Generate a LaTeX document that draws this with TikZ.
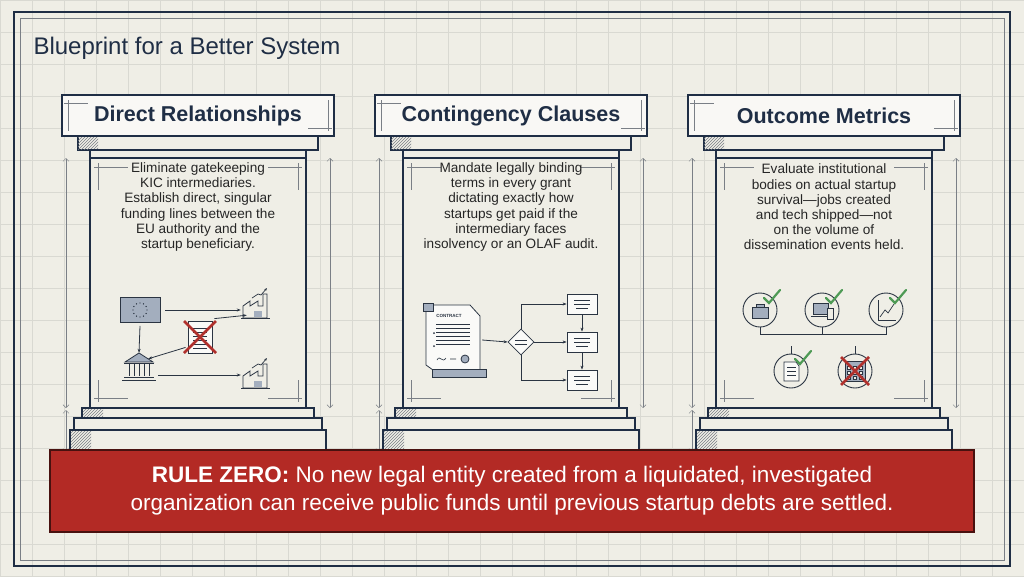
\documentclass[tikz,border=0pt]{standalone}
\usepackage{fontspec}
\setmainfont{Liberation Sans}
\usetikzlibrary{patterns,arrows.meta,shapes.geometric,calc}
\definecolor{bg}{HTML}{EFEEE6}
\definecolor{grid}{HTML}{D9D9D2}
\definecolor{navy}{HTML}{1F2E45}
\definecolor{ink}{HTML}{2A3442}
\definecolor{iconfill}{HTML}{A3AEBE}
\definecolor{banner}{HTML}{B32A25}
\definecolor{xred}{HTML}{B0302C}
\definecolor{chk}{HTML}{4E9A55}
\definecolor{dim}{HTML}{7A7F86}
\tikzset{
  ln/.style={draw=navy,line width=1.6pt},
  dimline/.style={draw=dim,line width=0.5pt,{Straight Barb[length=3pt]}-{Straight Barb[length=3pt]}},
  arr/.style={draw=ink,line width=0.8pt,-{Stealth[length=4pt]}},
  body/.style={align=center,text=black!85,font=\fontsize{13.6}{15.2}\selectfont},
  head/.style={font=\bfseries\fontsize{21.5}{25}\selectfont,text=navy},
  hatch/.style={pattern=north east lines,pattern color=dim}
}
\newcommand{\pillar}[3]{% #1 center x, #2 title, #3 body
\begin{scope}[shift={(#1,0)}]
 \fill[white!60!bg] (-136,95) rectangle (136,136);
 \draw[ln] (-136,95) rectangle (136,136);
 \draw[dim,line width=0.4pt] (-130,100)--(-130,131) (130,100)--(130,131) (-134,103)--(-110,103) (110,128)--(134,128);
 \node[head] at (0,115.5) {#2};
 \draw[ln,fill=bg] (-120,136) rectangle (120,150);
 \fill[hatch] (-120,137) rectangle (-100,149);
 \draw[ln,fill=bg] (-108,150) rectangle (108,158);
 \draw[ln,fill=bg] (-108,158) rectangle (108,408);
 \draw[dim,line width=0.4pt] (-100,163)--(-100,190) (100,163)--(100,190) (-104,167)--(-70,167) (70,167)--(104,167)
   (-100,380)--(-100,402) (100,380)--(100,402) (-104,398)--(-70,398) (70,398)--(104,398);
 \draw[ln,fill=bg] (-116,408) rectangle (116,418);
 \fill[hatch] (-115,409) rectangle (-95,417);
 \draw[ln,fill=bg] (-124,418) rectangle (124,430);
 \draw[ln,fill=bg] (-128,430) rectangle (128,452);
 \fill[hatch] (-127,431) rectangle (-107,451);
 \draw[dimline] (-132,158)--(-132,408);
 \draw[dimline] (132,158)--(132,408);
 \draw[dimline] (-132,410)--(-132,452);
 \node[body] at (0,207) {#3};
\end{scope}}
\begin{document}
\begin{tikzpicture}[x=1pt,y=-1pt]
\useasboundingbox (0,0) rectangle (1024,576);
\fill[bg] (0,0) rectangle (1024,576);
\foreach \i in {0,32,...,1024} \draw[grid,line width=0.4pt] (\i,0)--(\i,576);
\foreach \j in {0,32,...,576} \draw[grid,line width=0.4pt] (0,\j)--(1024,\j);
\draw[navy,line width=1.2pt] (14,12) rectangle (1010,566);
\draw[dim,line width=0.4pt] (20,18) rectangle (1004,560);
\node[anchor=west,text=navy,font=\fontsize{24}{28}\selectfont] (title) at (30,48) {Blueprint for a Better System};

\pillar{198}{Direct Relationships}{Eliminate gatekeeping\\KIC intermediaries.\\Establish direct, singular\\funding lines between the\\EU authority and the\\startup beneficiary.}
\pillar{511}{Contingency Clauses}{Mandate legally binding\\terms in every grant\\dictating exactly how\\startups get paid if the\\intermediary faces\\insolvency or an OLAF audit.}
\pillar{824}{Outcome Metrics}{Evaluate institutional\\bodies on actual startup\\survival—jobs created\\and tech shipped—not\\on the volume of\\dissemination events held.}

% ---- column 1 icons
\node[draw=ink,fill=iconfill,line width=0.8pt,minimum width=40pt,minimum height=25pt,inner sep=0] (flag) at (140,310) {};
\foreach \a in {0,30,...,330} \fill[ink] ($(flag)+(\a:7)$) circle (0.7);
\coordinate (fac1) at (258,306);
\coordinate (fac2) at (258,376);
\foreach \f in {fac1,fac2}{
 \draw[ink,line width=0.8pt,fill=bg] ($(\f)+(-15,12)$)--($(\f)+(-15,0)$)--($(\f)+(-8,-5)$)--($(\f)+(-8,0)$)--($(\f)+(0,-5)$)--($(\f)+(0,0)$)--($(\f)+(5,0)$)--($(\f)+(5,-12)$)--($(\f)+(9,-12)$)--($(\f)+(9,12)$)--cycle;
 \fill[iconfill] ($(\f)+(-4,5)$) rectangle ($(\f)+(4,11)$);
 \draw[ink,line width=0.8pt] ($(\f)+(-17,12)$)--($(\f)+(12,12)$);
 \draw[ink,line width=0.7pt,-{Stealth[length=3pt]}] ($(\f)+(-6,-8)$)--($(\f)+(0,-12)$)--($(\f)+(3,-11)$)--($(\f)+(9,-18)$);
}
\node (fac1n) at (258,306) [minimum size=34pt,inner sep=0] {};
\node (fac2n) at (258,376) [minimum size=34pt,inner sep=0] {};
\node[draw=ink,fill=white!70!bg,line width=0.8pt,minimum width=24pt,minimum height=32pt,inner sep=0] (doc) at (200,337) {};
\foreach \k in {-9,-5,...,11} \draw[ink,line width=0.5pt] ($(doc)+(-7,\k)$)--($(doc)+(7,\k)$);
\draw[xred,line width=2.6pt] ($(doc)+(-16,-16)$)--($(doc)+(16,16)$) ($(doc)+(16,-16)$)--($(doc)+(-16,16)$);
\node[minimum width=30pt,minimum height=30pt,inner sep=0] (bank) at (139,368) {};
\draw[ink,line width=0.8pt,fill=iconfill] (125,362)--(139,353)--(153,362)--cycle;
\foreach \c in {129,134,139,144,149} \draw[ink,line width=0.9pt] (\c,364)--(\c,376);
\draw[ink,line width=0.9pt] (124,363)--(154,363) (124,377)--(154,377) (122,380)--(156,380);
\draw[arr] ($(flag.east)+(5,0)$) -- (flag.east -| fac1n.west);
\draw[arr] ($(flag.south)+(0,3)$) -- (bank.north);
\draw[arr] ($(doc.north east)+(2,-2)$) -- ($(fac1n.south west)+(6,-8)$);
\draw[arr] ($(doc.south west)+(-2,-6)$) -- ($(bank.north east)+(-6,6)$);
\draw[arr] ($(bank.east)+(4,7)$) -- ($(bank.east -| fac2n.west)+(0,7)$);

% ---- column 2 icons
\node (scroll) at (452,340) [minimum width=60pt,minimum height=76pt,inner sep=0] {};
\draw[ink,line width=0.8pt,fill=white!70!bg] (426,305)--(470,305)--(480,316)--(480,370)--(433,370)--(426,365)--cycle;
\fill[iconfill,draw=ink,line width=0.7pt] (423,303) rectangle (433,311);
\fill[iconfill,draw=ink,line width=0.7pt] (432,369) rectangle (486,377);
\node[font=\bfseries\fontsize{4.5}{5}\selectfont,text=ink] (ctr) at (449,316) {CONTRACT};
\foreach \k in {324,328,332,336,340,344} \draw[ink,line width=0.6pt] (436,\k)--(470,\k);
\fill[ink] (434,333) circle (1) (434,346) circle (1);
\draw[ink,line width=0.6pt] (437,360) .. controls (440,354) and (442,364) .. (446,358) (450,359)--(456,359);
\draw[ink,line width=0.8pt,fill=iconfill] (465,359) circle (4);
\node[diamond,draw=ink,fill=white!70!bg,line width=0.8pt,minimum size=26pt,inner sep=0] (dia) at (521,342) {};
\draw[ink,line width=0.6pt] (515,340)--(527,340) (515,344)--(527,344);
\foreach \n/\yy in {b1/304,b2/342,b3/380}{
 \node[draw=ink,fill=white!70!bg,line width=0.8pt,minimum width=30pt,minimum height=20pt,inner sep=0] (\n) at (582,\yy) {};
 \draw[ink,line width=0.6pt] ($(\n)+(-8,-4)$)--($(\n)+(8,-4)$) ($(\n)+(-8,0)$)--($(\n)+(8,0)$) ($(\n)+(-6,4)$)--($(\n)+(6,4)$);
}
\draw[arr] (scroll.east) -- (dia.west);
\draw[arr] (dia.east) -- (b2.west);
\draw[arr] (dia.north) |- (b1.west);
\draw[arr] (dia.south) |- (b3.west);
\draw[arr] (b1.south) -- (b2.north);
\draw[arr] (b2.south) -- (b3.north);

% ---- column 3 icons
\foreach \n/\xx/\yy in {c1/760/310,c2/822/310,c3/886/310,c4/791/371,c5/855/371}
  \node[circle,draw=ink,line width=0.9pt,minimum size=34pt,inner sep=0] (\n) at (\xx,\yy) {};
\draw[ink,fill=iconfill,line width=0.7pt] (752,307) rectangle (768,318) (756,307)--(756,304)--(764,304)--(764,307);
\draw[ink,fill=iconfill,line width=0.7pt] (813,303) rectangle (828,314) (811,316)--(830,316);
\draw[ink,fill=bg,line width=0.7pt] (827,308) rectangle (833,319);
\draw[ink,line width=0.7pt] (878,300)--(878,320)--(896,320);
\draw[ink,line width=0.7pt] (880,317)--(885,310)--(888,313)--(894,304);
\draw[ink,fill=white!70!bg,line width=0.7pt] (784,362)--(796,362)--(799,366)--(799,381)--(784,381)--cycle;
\foreach \k in {367,371,375} \draw[ink,line width=0.5pt] (787,\k)--(796,\k);
\draw[ink,fill=iconfill,line width=0.7pt] (845,361) rectangle (865,381);
\foreach \i in {849,855,861} \foreach \j in {368,373,378} \draw[ink,fill=bg,line width=0.4pt] (\i-1.5,\j-1.5) rectangle (\i+1.5,\j+1.5);
\draw[xred,line width=2.6pt] (841,357)--(869,385) (869,357)--(841,385);
\foreach \n in {c1,c2,c3,c4}
  \draw[chk,line width=2.2pt,line cap=round] ($(\n)+(4,-12)$)--($(\n)+(9,-7)$)--($(\n)+(20,-20)$);
\draw[ink,line width=0.8pt] (c1.south)--++(0,7) -| (c3.south) (c2.south)--++(0,7);
\draw[ink,line width=0.8pt] (c4.north)--++(0,-8) (c5.north)--++(0,-8);

% ---- banner
\node[draw=black!60!banner,fill=banner,line width=1.2pt,minimum width=924pt,minimum height=82pt,align=center,text=white,font=\fontsize{22.5}{28}\selectfont] (rule) at (512,491) {\textbf{RULE ZERO:} No new legal entity created from a liquidated, investigated\\organization can receive public funds until previous startup debts are settled.};
\end{tikzpicture}
\end{document}
